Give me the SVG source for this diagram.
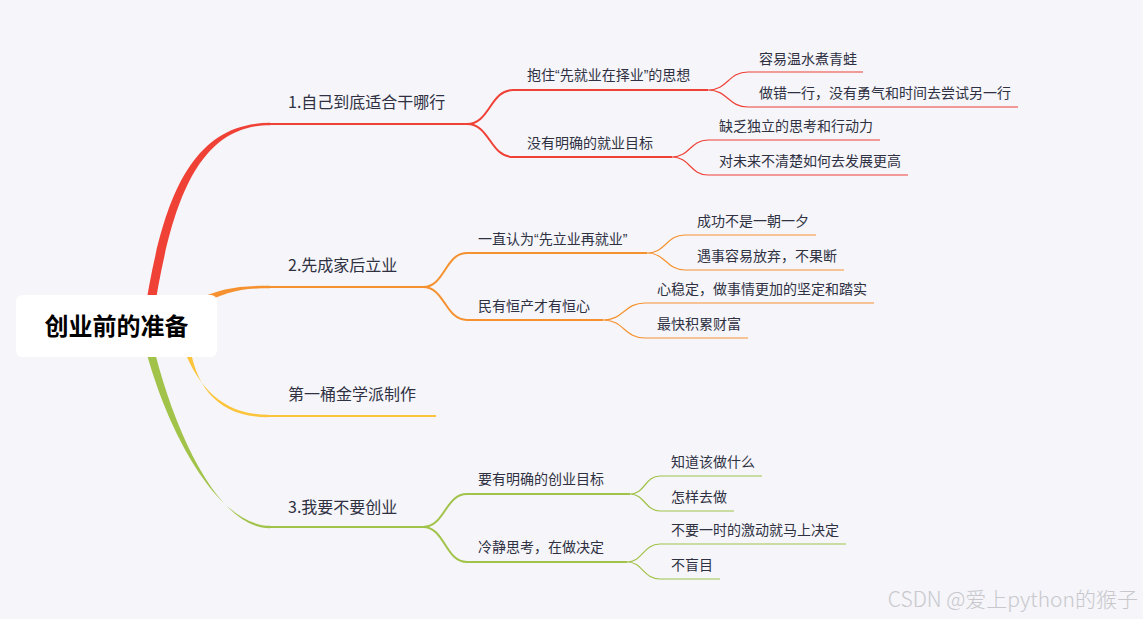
<svg xmlns="http://www.w3.org/2000/svg" width="1143" height="619" viewBox="0 0 1143 619">
<style>
text{font-family:"Noto Sans CJK SC","Noto Sans",sans-serif;fill:#2f3142}
.q{font-family:"Liberation Sans",sans-serif}
.m{font-size:16px}
.s{font-size:14px}
.l{font-size:14px}
.r{stroke:#ef4136}
.o{stroke:#f5922f}
.y{stroke:#fcc43a}
.g{stroke:#a2c34a}
.w2{fill:none;stroke-width:2}
.w1{fill:none;stroke-width:1.2}
</style>
<rect width="1143" height="619" fill="#f5f5fa"/>
<g id="connectors">
  <path d="M143.5 319.3 C160.5 209.3 186 122.8 270 122.8 L270 125.2 C194 125.2 169.5 210.7 152.5 320.7 Z" fill="#ef4136"/>
  <path d="M194 300.5 C222 288 238 285.8 270 285.8 L270 288.2 C240 288.2 226 292 197 306 Z" fill="#f5922f"/>
  <path d="M181 341.5 C196 386 222 414.8 268 414.8 L268 417.2 C220 417.2 194 389 189 338.5 Z" fill="#fcc43a"/>
  <path d="M141 330.6 C161 421 215 525.8 270 525.8 L270 528.2 C215 528.2 169 420 149.5 329.4 Z" fill="#a2c34a"/>
  <path class="r w2" d="M269 124 H467 C490 124 490 90 513 90 H708 M467 124 C490 124 490 157 513 157 H672"/>
  <path class="r w1" d="M708 90 C728 90 728 72 748 72 H863 M708 90 C728 90 728 107 748 107 H1018"/>
  <path class="r w1" d="M672 157 C690 157 690 140 708 140 H880 M672 157 C690 157 690 175 708 175 H908"/>
  <path class="o w2" d="M269 287 H423 C445 287 445 253 467 253 H647 M423 287 C445 287 445 320 467 320 H603"/>
  <path class="o w1" d="M647 253 C666 253 666 235 685 235 H816 M647 253 C666 253 666 270 685 270 H844"/>
  <path class="o w1" d="M603 320 C624 320 624 303 645 303 H874 M603 320 C624 320 624 338 645 338 H748"/>
  <path class="y w2" d="M267 416 H436"/>
  <path class="g w2" d="M269 527 H423 C445 527 445 494 467 494 H630 M423 527 C445 527 445 562 467 562 H627"/>
  <path class="g w1" d="M630 494 C645 494 645 476 660 476 H762 M630 494 C645 494 645 511 660 511 H734"/>
  <path class="g w1" d="M627 562 C643 562 643 544 660 544 H846 M627 562 C643 562 643 579 660 579 H720"/>
</g>
<g id="root">
  <rect x="16" y="295" width="201" height="62" rx="6" fill="#ffffff"/>
  <text x="116.5" y="335" text-anchor="middle" style="font-size:24px;font-weight:bold;fill:#000">创业前的准备</text>
</g>
<g id="n1"><text class="m" x="288" y="108">1.自己到底适合干哪行</text></g>
<g id="n1a"><text class="s" x="527" y="80">抱住<tspan class="q">“</tspan>先就业在择业<tspan class="q">”</tspan>的思想</text></g>
<g id="n1a1"><text class="l" x="759" y="63.5">容易温水煮青蛙</text></g>
<g id="n1a2"><text class="l" x="759" y="98">做错一行，没有勇气和时间去尝试另一行</text></g>
<g id="n1b"><text class="s" x="527" y="147.5">没有明确的就业目标</text></g>
<g id="n1b1"><text class="l" x="719" y="131">缺乏独立的思考和行动力</text></g>
<g id="n1b2"><text class="l" x="719" y="166">对未来不清楚如何去发展更高</text></g>
<g id="n2"><text class="m" x="288" y="271">2.先成家后立业</text></g>
<g id="n2a"><text class="s" x="478" y="243.5">一直认为<tspan class="q">“</tspan>先立业再就业<tspan class="q">”</tspan></text></g>
<g id="n2a1"><text class="l" x="697" y="226">成功不是一朝一夕</text></g>
<g id="n2a2"><text class="l" x="697" y="261">遇事容易放弃，不果断</text></g>
<g id="n2b"><text class="s" x="478" y="311">民有恒产才有恒心</text></g>
<g id="n2b1"><text class="l" x="657" y="294">心稳定，做事情更加的坚定和踏实</text></g>
<g id="n2b2"><text class="l" x="657" y="328.5">最快积累财富</text></g>
<g id="n3"><text class="m" x="288" y="400">第一桶金学派制作</text></g>
<g id="n4"><text class="m" x="288" y="513">3.我要不要创业</text></g>
<g id="n4a"><text class="s" x="478" y="483.5">要有明确的创业目标</text></g>
<g id="n4a1"><text class="l" x="671" y="467">知道该做什么</text></g>
<g id="n4a2"><text class="l" x="671" y="502">怎样去做</text></g>
<g id="n4b"><text class="s" x="478" y="552">冷静思考，在做决定</text></g>
<g id="n4b1"><text class="l" x="671" y="535">不要一时的激动就马上决定</text></g>
<g id="n4b2"><text class="l" x="671" y="570">不盲目</text></g>
<text x="1138" y="607" text-anchor="end" style="font-size:21px;fill:#c8c8cc;font-weight:300">CSDN @爱上python的猴子</text>
</svg>
